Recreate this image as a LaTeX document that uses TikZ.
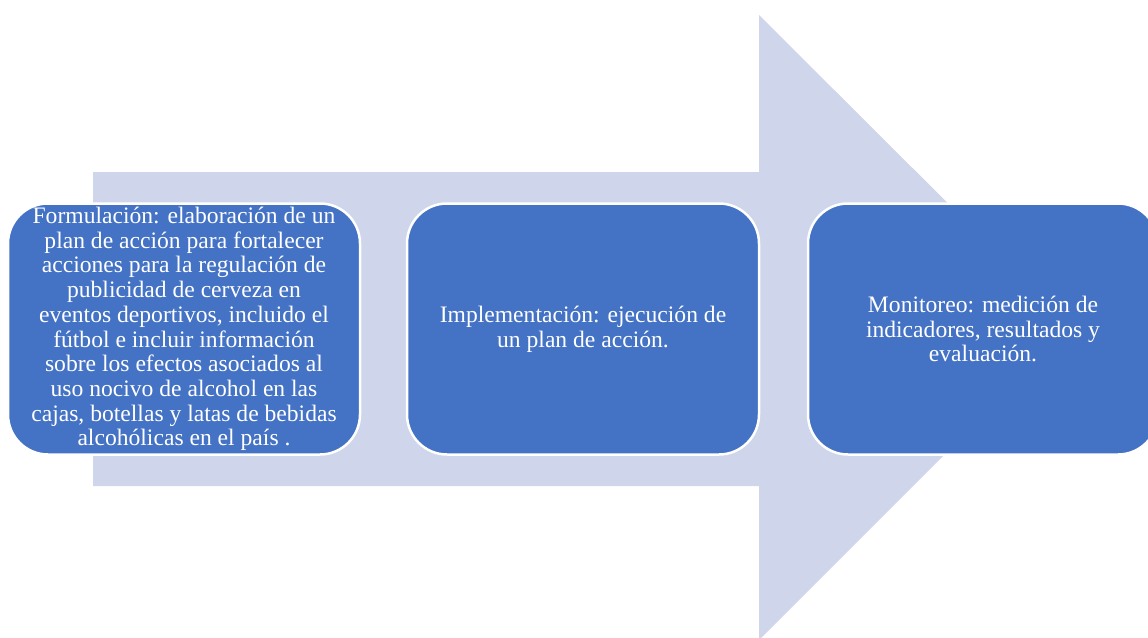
\documentclass[tikz,border=0pt]{standalone}
\usepackage{fontspec}
\setmainfont{Liberation Serif}
\definecolor{arrowc}{HTML}{CFD5EA}
\definecolor{boxc}{HTML}{4472C4}
\begin{document}
\begin{tikzpicture}[x=1pt,y=-1pt,
  stepbox/.style={draw=white, line width=2.5pt, fill=boxc, rounded corners=40pt,
    text=white, align=center, font=\fontsize{23.6}{24.7}\selectfont, inner sep=0pt,
    minimum width=352pt, minimum height=251pt}]
\useasboundingbox (0,0) rectangle (1148,637);
\clip (0,0) rectangle (1148,637);
\fill[arrowc] (93,172) -- (759,172) -- (759,15) -- (1072,327) -- (759,640) -- (759,486) -- (93,486) -- cycle;
\node[stepbox] (form) at (184,329) {Formulación: elaboración de un\\plan de acción para fortalecer\\acciones para la regulación de\\publicidad de cerveza en\\eventos deportivos, incluido el\\fútbol e incluir información\\sobre los efectos asociados al\\uso nocivo de alcohol en las\\cajas, botellas y latas de bebidas\\alcohólicas en el país .};
\node[stepbox] (impl) at (583,329) {Implementación: ejecución de\\un plan de acción.};
\node[stepbox, minimum width=350pt] (moni) at (983,329) {Monitoreo: medición de\\indicadores, resultados y\\evaluación.};
\end{tikzpicture}
\end{document}
